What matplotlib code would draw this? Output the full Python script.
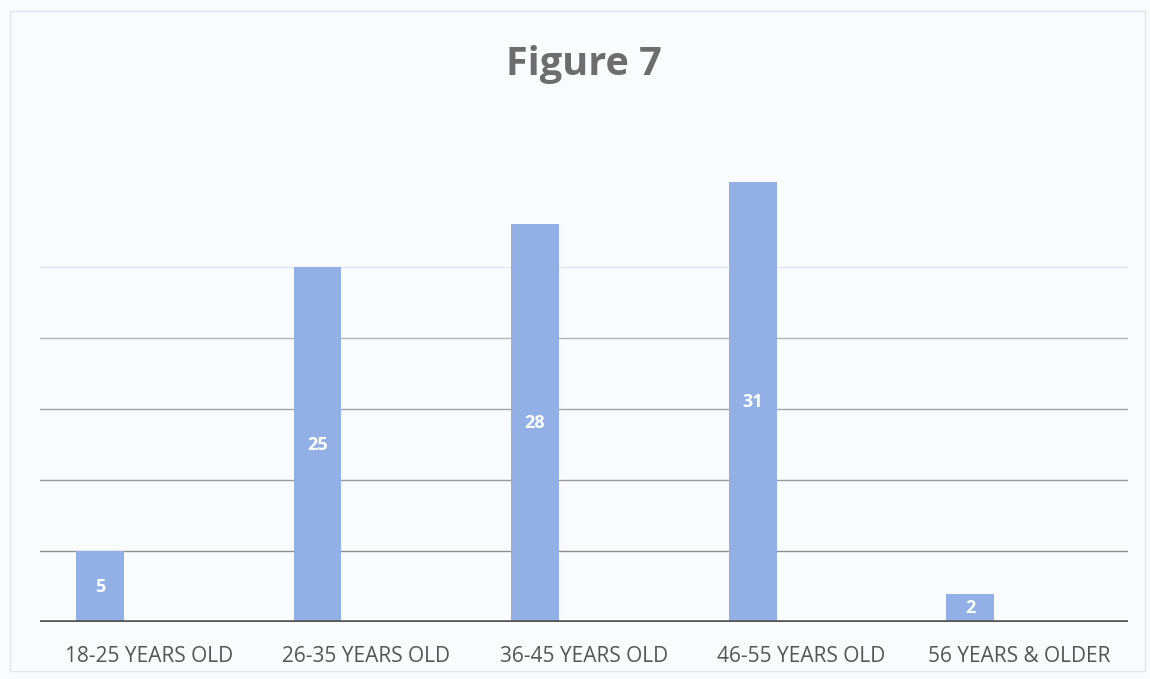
import matplotlib
matplotlib.use("Agg")
import matplotlib.pyplot as plt
import numpy as np

categories = ["18-25 YEARS OLD", "26-35 YEARS OLD", "36-45 YEARS OLD", "46-55 YEARS OLD", "56 YEARS & OLDER"]
values = [5, 25, 28, 31, 2]
title = "Figure 7"

plt.rcParams['font.family'] = ['Open Sans', 'DejaVu Sans']

fig = plt.figure(figsize=(11.5, 6.79), dpi=100, facecolor='#f9fbfd')
ax = fig.add_axes([40/1150, 57/679, 1088/1150, 497/679])
ax.set_facecolor('none')

x = np.arange(len(categories))
bw = 0.22
bars = ax.bar(x - 0.225, values, width=bw, color='#92b0e6', edgecolor='none', zorder=3)
for b, v in zip(bars, values):
    ax.text(b.get_x() + b.get_width()/2, v/2, str(v), ha='center', va='center',
            color='white', fontsize=13, fontweight='bold', zorder=4)

ax.set_xlim(-0.5, len(categories) - 0.5)
ax.set_ylim(0, 35)
for g, c in [(5, '#8c8c8c'), (10, '#9a9a9a'), (15, '#a5a5a5'), (20, '#b5b5b5'), (25, '#e3e6ea')]:
    ax.axhline(g, color=c, lw=1.0, zorder=1)
ax.axhline(0, color='#555555', lw=2.6, zorder=5)

ax.set_xticks(x)
ax.set_xticklabels(categories, fontsize=15, color='#555555')
ax.tick_params(axis='x', length=0, pad=17)
ax.set_yticks([])
for s in ax.spines.values():
    s.set_visible(False)

fig.text(584/1150, 1 - 65/679, title, ha='center', va='center', fontsize=28.5,
         fontweight='bold', color='#6d6d6d')

# light frame around the chart area
fig.patches.append(plt.Rectangle((10/1150, 8/679), 1135/1150, 660/679, transform=fig.transFigure,
                                 fill=False, edgecolor='#e2e6ea', lw=1))

fig.savefig("out.png", dpi=100, facecolor=fig.get_facecolor())
